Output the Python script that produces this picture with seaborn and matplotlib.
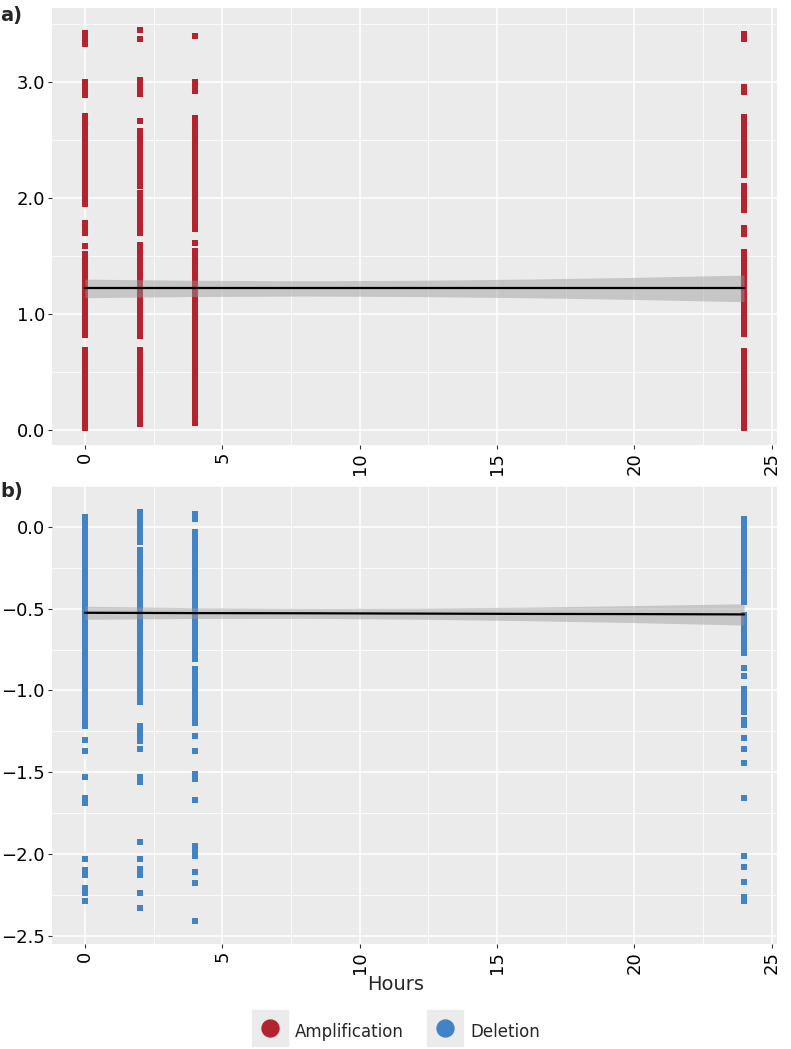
import matplotlib
matplotlib.use("Agg")
import matplotlib.pyplot as plt
import pandas as pd
import seaborn as sns
from matplotlib.lines import Line2D
from matplotlib.legend_handler import HandlerTuple

# values: one list per time point
amp_h0 = [0.02, 0.06, 0.10, 0.14, 0.18, 0.22, 0.26, 0.30, 0.34, 0.38, 0.42, 0.46, 0.50, 0.54,
          0.58, 0.62, 0.66, 0.69, 0.82, 0.86, 0.90, 0.94, 0.98, 1.02, 1.06, 1.10, 1.14, 1.18,
          1.22, 1.26, 1.30, 1.34, 1.38, 1.42, 1.46, 1.50, 1.52, 1.585, 1.70, 1.74, 1.78, 1.95,
          1.99, 2.03, 2.07, 2.11, 2.15, 2.19, 2.23, 2.27, 2.31, 2.35, 2.39, 2.43, 2.47, 2.51,
          2.55, 2.59, 2.63, 2.67, 2.71, 2.89, 2.93, 2.97, 3.00, 3.33, 3.37, 3.42]
amp_h2 = [0.05, 0.09, 0.13, 0.17, 0.21, 0.25, 0.29, 0.33, 0.37, 0.41, 0.45, 0.49, 0.53, 0.57,
          0.61, 0.65, 0.69, 0.81, 0.85, 0.89, 0.93, 0.97, 1.01, 1.05, 1.09, 1.13, 1.17, 1.21,
          1.25, 1.29, 1.33, 1.37, 1.41, 1.45, 1.49, 1.53, 1.57, 1.59, 1.70, 1.74, 1.78, 1.82,
          1.86, 1.90, 1.94, 1.98, 2.02, 2.04, 2.10, 2.14, 2.18, 2.22, 2.26, 2.30, 2.34, 2.38,
          2.42, 2.46, 2.50, 2.54, 2.58, 2.66, 2.90, 2.94, 2.98, 3.02, 3.37, 3.45]
amp_h4 = [0.06, 0.10, 0.14, 0.18, 0.22, 0.26, 0.30, 0.34, 0.38, 0.42, 0.46, 0.50, 0.54, 0.58,
          0.62, 0.66, 0.70, 0.74, 0.78, 0.82, 0.86, 0.90, 0.94, 0.98, 1.02, 1.06, 1.10, 1.14,
          1.18, 1.22, 1.26, 1.30, 1.34, 1.38, 1.42, 1.46, 1.50, 1.54, 1.61, 1.73, 1.77, 1.81,
          1.84, 1.89, 1.93, 1.97, 2.01, 2.05, 2.09, 2.13, 2.17, 2.21, 2.25, 2.29, 2.33, 2.37,
          2.41, 2.45, 2.49, 2.53, 2.57, 2.61, 2.65, 2.69, 2.92, 2.96, 3.00, 3.40]
amp_h24 = [0.02, 0.06, 0.10, 0.14, 0.18, 0.22, 0.26, 0.30, 0.34, 0.38, 0.42, 0.46, 0.50, 0.54,
           0.58, 0.62, 0.66, 0.68, 0.83, 0.87, 0.91, 0.95, 0.99, 1.03, 1.07, 1.11, 1.15, 1.19,
           1.23, 1.27, 1.31, 1.35, 1.39, 1.43, 1.47, 1.51, 1.53, 1.69, 1.74, 1.90, 1.94, 1.98,
           2.02, 2.06, 2.10, 2.20, 2.24, 2.28, 2.32, 2.36, 2.40, 2.44, 2.48, 2.52, 2.56, 2.60,
           2.64, 2.68, 2.70, 2.91, 2.96, 3.37, 3.41]

del_h0 = [0.06, 0.03, 0.00, -0.03, -0.06, -0.09, -0.12, -0.15, -0.18, -0.21, -0.24, -0.27,
          -0.30, -0.33, -0.36, -0.39, -0.42, -0.45, -0.48, -0.51, -0.54, -0.57, -0.60, -0.63,
          -0.66, -0.69, -0.72, -0.75, -0.78, -0.81, -0.84, -0.87, -0.90, -0.93, -0.96, -0.99,
          -1.02, -1.05, -1.08, -1.11, -1.14, -1.17, -1.20, -1.22, -1.30, -1.37, -1.53, -1.66,
          -1.69, -2.03, -2.10, -2.13, -2.21, -2.24, -2.29]
del_h2 = [0.09, 0.06, 0.03, 0.00, -0.03, -0.06, -0.09, -0.14, -0.17, -0.20, -0.23, -0.26,
          -0.29, -0.32, -0.35, -0.38, -0.41, -0.44, -0.47, -0.50, -0.53, -0.56, -0.59, -0.62,
          -0.65, -0.68, -0.71, -0.74, -0.77, -0.80, -0.83, -0.86, -0.89, -0.92, -0.95, -0.98,
          -1.01, -1.04, -1.07, -1.22, -1.25, -1.28, -1.31, -1.36, -1.53, -1.56, -1.925, -2.03,
          -2.09, -2.13, -2.24, -2.33]
del_h4 = [0.08, 0.05, -0.03, -0.06, -0.09, -0.12, -0.15, -0.18, -0.21, -0.24, -0.27, -0.30,
          -0.33, -0.36, -0.39, -0.42, -0.45, -0.48, -0.51, -0.54, -0.57, -0.60, -0.63, -0.66,
          -0.69, -0.72, -0.75, -0.78, -0.81, -0.87, -0.90, -0.93, -0.96, -0.99, -1.02, -1.05,
          -1.08, -1.11, -1.14, -1.17, -1.20, -1.28, -1.37, -1.51, -1.54, -1.67, -1.95, -1.98,
          -2.01, -2.11, -2.18, -2.41]
del_h24 = [0.05, 0.02, -0.01, -0.04, -0.07, -0.10, -0.13, -0.16, -0.19, -0.22, -0.25, -0.28,
           -0.31, -0.34, -0.37, -0.40, -0.43, -0.46, -0.54, -0.57, -0.60, -0.63, -0.66, -0.69,
           -0.72, -0.75, -0.77, -0.86, -0.91, -0.99, -1.02, -1.05, -1.08, -1.11, -1.13, -1.18,
           -1.21, -1.29, -1.355, -1.445, -1.655, -2.01, -2.08, -2.17, -2.26, -2.29]

# fitted line and confidence band
fit_hours = [0, 4, 8, 12, 16, 20, 24]
amp_fit = [1.22, 1.22, 1.22, 1.22, 1.22, 1.22, 1.22]
amp_lo = [1.14, 1.15, 1.154, 1.15, 1.14, 1.125, 1.105]
amp_hi = [1.30, 1.29, 1.286, 1.29, 1.30, 1.315, 1.335]
del_fit = [-0.525, -0.527, -0.528, -0.530, -0.532, -0.533, -0.535]
del_lo = [-0.565, -0.560, -0.559, -0.564, -0.573, -0.585, -0.600]
del_hi = [-0.485, -0.494, -0.497, -0.496, -0.491, -0.481, -0.470]

hours = [0, 2, 4, 24]
amp_cols = [amp_h0, amp_h2, amp_h4, amp_h24]
del_cols = [del_h0, del_h2, del_h4, del_h24]

RED = "#B3242E"
BLUE = "#4283C6"


def to_frame(cols):
    rows = []
    for h, vals in zip(hours, cols):
        rows += [(h, v) for v in vals]
    return pd.DataFrame(rows, columns=["Hours", "value"])


amp_df = to_frame(amp_cols)
del_df = to_frame(del_cols)

sns.set_theme(style="darkgrid", rc={"axes.facecolor": "#EBEBEB", "grid.color": "white",
                                    "figure.facecolor": "white"})
plt.rcParams["font.family"] = ["DejaVu Sans"]
plt.rcParams["axes.unicode_minus"] = True

fig = plt.figure(figsize=(7.91, 10.49), dpi=100)
ax_a = fig.add_axes([52 / 791, 1 - 445 / 1049, 725 / 791, 437.3 / 1049])
ax_b = fig.add_axes([52 / 791, 1 - 944 / 1049, 725 / 791, 458 / 1049])


def draw_panel(ax, df, color, fit, lo, hi):
    sns.scatterplot(data=df, x="Hours", y="value", ax=ax, color=color, marker="s",
                    s=18, linewidth=0, legend=False, zorder=2)
    ax.fill_between(fit_hours, lo, hi, color="#999999", alpha=0.45, linewidth=0, zorder=3)
    sns.lineplot(x=fit_hours, y=fit, ax=ax, color="black", linewidth=1.6, zorder=4)


def style_axes(ax, ylim, yticks, yminor):
    ax.set_xlim(-1.2, 25.2)
    ax.set_ylim(*ylim)
    ax.set_xticks([0, 5, 10, 15, 20, 25])
    ax.set_xticklabels(["0", "5", "10", "15", "20", "25"])
    ax.set_xticks([2.5, 7.5, 12.5, 17.5, 22.5], minor=True)
    ax.set_yticks(yticks)
    ax.set_yticklabels([f"{v:.1f}".replace("-", "\u2212") for v in yticks])
    ax.set_yticks(yminor, minor=True)
    ax.grid(which="major", color="white", linewidth=1.1)
    ax.grid(which="minor", color="white", linewidth=0.55)
    ax.tick_params(which="major", length=3, width=0.8, color="#333333",
                   labelsize=13, labelcolor="black", pad=2, bottom=True, left=True)
    ax.tick_params(which="minor", length=0)
    ax.tick_params(axis="x", labelrotation=90)
    for s in ax.spines.values():
        s.set_visible(False)
    ax.set_xlabel("")
    ax.set_ylabel("")
    ax.set_axisbelow(True)


draw_panel(ax_a, amp_df, RED, amp_fit, amp_lo, amp_hi)
draw_panel(ax_b, del_df, BLUE, del_fit, del_lo, del_hi)
style_axes(ax_a, (-0.13, 3.64), [0.0, 1.0, 2.0, 3.0], [0.5, 1.5, 2.5, 3.5])
style_axes(ax_b, (-2.55, 0.20), [0.0, -0.5, -1.0, -1.5, -2.0, -2.5],
           [0.25, -0.25, -0.75, -1.25, -1.75, -2.25])

fig.text(0.0, 1 - 16 / 1049, "a)", fontsize=14, fontweight="bold", va="center", ha="left")
fig.text(0.0, 1 - 491 / 1049, "b)", fontsize=14, fontweight="bold", va="center", ha="left")
fig.text(0.5, 1 - 985 / 1049, "Hours", fontsize=14, va="center", ha="center")

# grey key background with the coloured dot drawn on top of it
key_bg = Line2D([], [], marker="s", markersize=26, color="#EBEBEB", linestyle="None")
amp_key = Line2D([], [], marker="o", markersize=12.2, color=RED, linestyle="None")
del_key = Line2D([], [], marker="o", markersize=12.2, color=BLUE, linestyle="None")
fig.legend(handles=[(key_bg, amp_key), (key_bg, del_key)], labels=["Amplification", "Deletion"],
           handler_map={tuple: HandlerTuple(ndivide=1, pad=0)}, loc="center",
           bbox_to_anchor=(0.5, 1 - 1032 / 1049), ncol=2, frameon=False, fontsize=12,
           handlelength=2.2, handleheight=2.2, handletextpad=0.4, columnspacing=1.4)

fig.savefig("out.png", dpi=100)
